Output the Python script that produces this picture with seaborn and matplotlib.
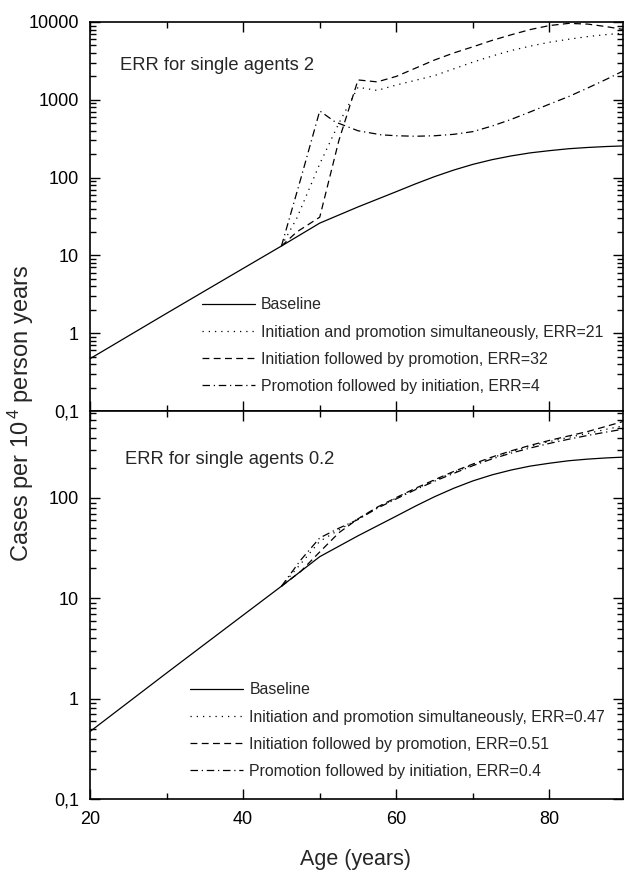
import numpy as np
import pandas as pd
import matplotlib
matplotlib.use("Agg")
import matplotlib.pyplot as plt
import matplotlib.ticker as mticker
import seaborn as sns

# ---------------- data ----------------
ages_base = [20, 25, 30, 35, 40, 45, 50, 55, 60, 62.5, 65, 67.5, 70, 72.5, 75,
             77.5, 80, 82.5, 85, 87.5, 90]
baseline = [0.47, 0.92, 1.8, 3.5, 6.8, 13.2, 26, 42, 66, 83, 103, 125, 148, 170, 190,
            208, 222, 235, 244, 251, 256]

# upper panel: ERR for single agents 2
sim_top_age = [45, 47, 50, 52.5, 55, 57.5, 60, 62.5, 65, 67.5, 70, 72.5, 75, 77.5,
               80, 82.5, 85, 87.5, 90]
sim_top = [13.2, 30, 150, 500, 1450, 1320, 1550, 1780, 2050, 2500, 3050, 3650, 4300,
           4900, 5500, 6000, 6500, 6900, 7250]
ifp_top_age = [45, 47, 50, 52.5, 55, 57.5, 60, 62.5, 65, 67.5, 70, 72.5, 75, 77.5,
               80, 82.5, 85, 87.5, 90]
ifp_top = [13.2, 20, 31, 300, 1800, 1700, 2000, 2550, 3250, 4000, 4800, 5800, 6850,
           8000, 9000, 9600, 9400, 8700, 7900]
pfi_top_age = [45, 47.5, 50, 52, 55, 58, 60, 62.5, 65, 67.5, 70, 72.5, 75, 77.5,
               80, 82.5, 85, 87.5, 90]
pfi_top = [13.2, 95, 720, 520, 400, 355, 345, 340, 345, 360, 390, 460, 560, 700,
           880, 1100, 1420, 1850, 2450]

# lower panel: ERR for single agents 0.2
bot_age = [45, 47.5, 50, 52.5, 55, 57.5, 60, 62.5, 65, 67.5, 70, 72.5, 75, 77.5,
           80, 82.5, 85, 87.5, 90]
sim_bot = [13.2, 22, 37, 48, 62, 80, 100, 123, 150, 180, 215, 252, 290, 328,
           365, 402, 440, 485, 530]
ifp_bot = [13.2, 18.5, 29, 45, 62, 81, 101, 125, 152, 184, 218, 256, 295, 335,
           375, 415, 460, 520, 590]
pfi_bot = [13.2, 24, 40, 50, 61, 79, 98, 121, 147, 176, 210, 245, 280, 315,
           350, 385, 420, 455, 490]

labels_top = ["Baseline",
              "Initiation and promotion simultaneously, ERR=21",
              "Initiation followed by promotion, ERR=32",
              "Promotion followed by initiation, ERR=4"]
labels_bot = ["Baseline",
              "Initiation and promotion simultaneously, ERR=0.47",
              "Initiation followed by promotion, ERR=0.51",
              "Promotion followed by initiation, ERR=0.4"]
titles = ["ERR for single agents 2", "ERR for single agents 0.2"]
ytick_vals = [0.1, 1, 10, 100, 1000, 10000]
ytick_labels = ["0,1", "1", "10", "100", "1000", "10000"]

# ---------------- style ----------------
sns.set_style("ticks")
plt.rcParams["font.family"] = ["Liberation Sans", "DejaVu Sans"]
plt.rcParams["mathtext.default"] = "regular"

styles = ["-", (0, (1, 4)), (0, (5.5, 3.5)), (0, (6, 3, 1, 3))]

fig = plt.figure(figsize=(6.25, 8.77), dpi=100)
left, width = 90 / 625, 533 / 625
ax_top = fig.add_axes([left, 1 - 411 / 877, width, 389 / 877])
ax_bot = fig.add_axes([left, 1 - 799 / 877, width, 388 / 877])


def draw(ax, series, labels):
    for (xs, ys), ls, lab in zip(series, styles, labels):
        sns.lineplot(x=xs, y=ys, ax=ax, color="black", linewidth=0.9,
                     linestyle=ls, label=lab)


draw(ax_top, [(ages_base, baseline), (sim_top_age, sim_top),
              (ifp_top_age, ifp_top), (pfi_top_age, pfi_top)], labels_top)
draw(ax_bot, [(ages_base, baseline), (bot_age, sim_bot),
              (bot_age, ifp_bot), (bot_age, pfi_bot)], labels_bot)

for ax, ylim in [(ax_top, (0.1, 10000)), (ax_bot, (0.1, 736))]:
    ax.set_yscale("log")
    ax.set_ylim(*ylim)
    ax.set_xlim(20, 89.6)
    vis = [(v, l) for v, l in zip(ytick_vals, ytick_labels) if v <= ylim[1]]
    ax.yaxis.set_major_locator(mticker.FixedLocator([v for v, _ in vis]))
    ax.yaxis.set_major_formatter(mticker.FixedFormatter([l for _, l in vis]))
    ax.yaxis.set_minor_locator(mticker.LogLocator(base=10, subs=np.arange(2, 10), numticks=20))
    ax.yaxis.set_minor_formatter(mticker.NullFormatter())
    ax.xaxis.set_major_locator(mticker.MultipleLocator(20))
    ax.xaxis.set_minor_locator(mticker.MultipleLocator(10))
    ax.tick_params(which="both", direction="in", top=True, right=True, width=1.0,
                   labelsize=13, colors="black")
    ax.tick_params(which="major", length=7)
    ax.tick_params(which="minor", length=4)
    ax.tick_params(axis="y", which="major", pad=8)
    ax.tick_params(axis="x", which="major", pad=9)
    for sp in ax.spines.values():
        sp.set_linewidth(1.2)
        sp.set_color("black")
    ax.set_xlabel("")
    ax.set_ylabel("")

ax_top.tick_params(axis="x", labelbottom=False)

ax_top.text(0.056, 0.889, titles[0], transform=ax_top.transAxes,
            ha="left", va="center", fontsize=13.2)
ax_bot.text(0.066, 0.876, titles[1], transform=ax_bot.transAxes,
            ha="left", va="center", fontsize=13.2)

for ax, bx, by in [(ax_top, 0.210, 0.168), (ax_bot, 0.188, 0.176)]:
    h, l = ax.get_legend_handles_labels()
    ax.legend(h, l, loc="center left", bbox_to_anchor=(bx, by), frameon=False,
              fontsize=11.4, handlelength=3.35, handletextpad=0.38,
              labelspacing=0.77, borderpad=0, borderaxespad=0)

fig.text(21 / 625, 1 - 413 / 877, "Cases per 10$^{\\,4}$ person years",
         rotation=90, ha="center", va="center", fontsize=17)
fig.text(356 / 625, 1 - 860 / 877, "Age (years)", ha="center", va="center",
         fontsize=15.5)

fig.savefig("out.png", dpi=100)
